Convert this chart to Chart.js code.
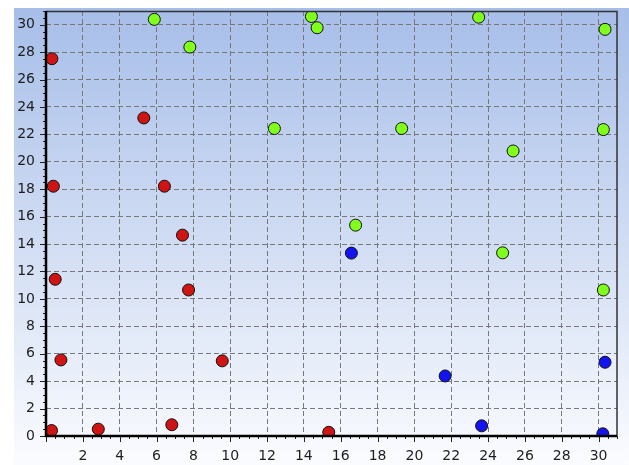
<!DOCTYPE html>
<html><head><meta charset="utf-8">
<script src="https://cdn.jsdelivr.net/npm/chart.js@4/dist/chart.umd.min.js"></script>
<style>html,body{margin:0;padding:0;background:#fff;overflow:hidden}#wrap{width:629px;height:465px;position:relative}</style>
</head><body><div id="wrap"><canvas id="c" width="629" height="465"></canvas></div>
<script>
// Series values
const redX   = [0.32, 0.40, 0.50, 0.81, 0.30, 2.84, 5.31, 6.43, 6.83, 7.41, 7.74, 9.57, 15.35];
const redY   = [27.52, 18.22, 11.43, 5.55, 0.40, 0.50, 23.2, 18.22, 0.82, 14.65, 10.65, 5.48, 0.27];
const greenX = [5.88, 7.81, 12.40, 14.41, 14.72, 16.81, 19.31, 23.49, 24.79, 25.36, 30.35, 30.26, 30.26];
const greenY = [30.39, 28.37, 22.43, 30.6, 29.78, 15.38, 22.43, 30.55, 13.36, 20.79, 29.66, 22.35, 10.65];
const blueX  = [16.58, 21.67, 23.65, 30.35, 30.23];
const blueY  = [13.34, 4.38, 0.74, 5.38, 0.16];
// Tick labels
const xTickValues = [2, 4, 6, 8, 10, 12, 14, 16, 18, 20, 22, 24, 26, 28, 30];
const yTickValues = [0, 2, 4, 6, 8, 10, 12, 14, 16, 18, 20, 22, 24, 26, 28, 30];
const axisMin = 0, axisMax = 31;

const pts = (xs, ys) => xs.map((x, i) => ({x: x, y: ys[i]}));

const bgPlugin = {
  id: 'bg',
  beforeDraw(chart) {
    const ctx = chart.ctx;
    const g = ctx.createLinearGradient(0, 8, 0, 465);
    g.addColorStop(0, '#a7bee9');
    g.addColorStop(0.5, '#d0dcf3');
    g.addColorStop(1, '#fbfcff');
    ctx.save();
    ctx.fillStyle = g;
    ctx.fillRect(14, 8, 615, 457);
    ctx.restore();
  }
};

const axesPlugin = {
  id: 'axesDeco',
  afterDatasetsDraw(chart) {
    const ctx = chart.ctx, a = chart.chartArea;
    const xs = chart.scales.x, ys = chart.scales.y;
    ctx.save();
    ctx.strokeStyle = '#222';
    ctx.lineWidth = 1;
    for (let v = axisMin; v <= axisMax + 1e-9; v += 0.5) {
      const major = Math.abs(v % 2) < 1e-9;
      const px = Math.round(xs.getPixelForValue(v)) + 0.5;
      ctx.beginPath();
      ctx.moveTo(px, a.bottom);
      ctx.lineTo(px, a.bottom + (major ? 6 : 3));
      ctx.stroke();
      const py = Math.round(ys.getPixelForValue(v)) + 0.5;
      ctx.beginPath();
      ctx.moveTo(a.left, py);
      ctx.lineTo(a.left - (major ? 6 : 3), py);
      ctx.stroke();
    }
    ctx.strokeStyle = '#333';
    ctx.lineWidth = 1.5;
    ctx.beginPath();
    ctx.moveTo(a.left, a.top + 0.5);
    ctx.lineTo(a.right, a.top + 0.5);
    ctx.lineTo(a.right, a.bottom);
    ctx.stroke();
    ctx.strokeStyle = '#000';
    ctx.lineWidth = 2.5;
    ctx.beginPath();
    ctx.moveTo(a.left, a.top);
    ctx.lineTo(a.left, a.bottom);
    ctx.lineTo(a.right, a.bottom);
    ctx.stroke();
    ctx.restore();
  }
};

Chart.defaults.font.family = 'DejaVu Sans';
Chart.defaults.font.size = 14;
Chart.defaults.color = '#1e1e1e';

const ds = (label, data, color) => ({
  label, data,
  backgroundColor: color,
  borderColor: '#111',
  borderWidth: 1,
  pointRadius: 6,
  pointHoverRadius: 6,
  clip: 0
});

new Chart(document.getElementById('c'), {
  type: 'scatter',
  data: {
    datasets: [
      ds('red', pts(redX, redY), '#d01414'),
      ds('blue', pts(blueX, blueY), '#1414f0'),
      ds('green', pts(greenX, greenY), '#80ff1c')
    ]
  },
  options: {
    responsive: false,
    animation: false,
    devicePixelRatio: 1,
    layout: {padding: {left: 14, top: 11, right: 12, bottom: 0}},
    plugins: {legend: {display: false}, tooltip: {enabled: false}},
    scales: {
      x: {
        type: 'linear', min: axisMin, max: axisMax,
        afterBuildTicks: s => { s.ticks = xTickValues.map(v => ({value: v})); },
        afterFit: s => { s.height = 29; s.paddingLeft = 0; s.paddingRight = 0; },
        grid: {color: '#787878', lineWidth: 1, drawTicks: false},
        border: {display: false, dash: [5, 3]},
        ticks: {autoSkip: false, maxRotation: 0, padding: 12}
      },
      y: {
        type: 'linear', min: axisMin, max: axisMax,
        afterBuildTicks: s => { s.ticks = yTickValues.map(v => ({value: v})); },
        afterFit: s => { s.width = 32; s.paddingTop = 0; s.paddingBottom = 0; },
        grid: {color: '#787878', lineWidth: 1, drawTicks: false},
        border: {display: false, dash: [5, 3]},
        ticks: {autoSkip: false, padding: 11}
      }
    }
  },
  plugins: [bgPlugin, axesPlugin]
});
</script>
</body></html>
